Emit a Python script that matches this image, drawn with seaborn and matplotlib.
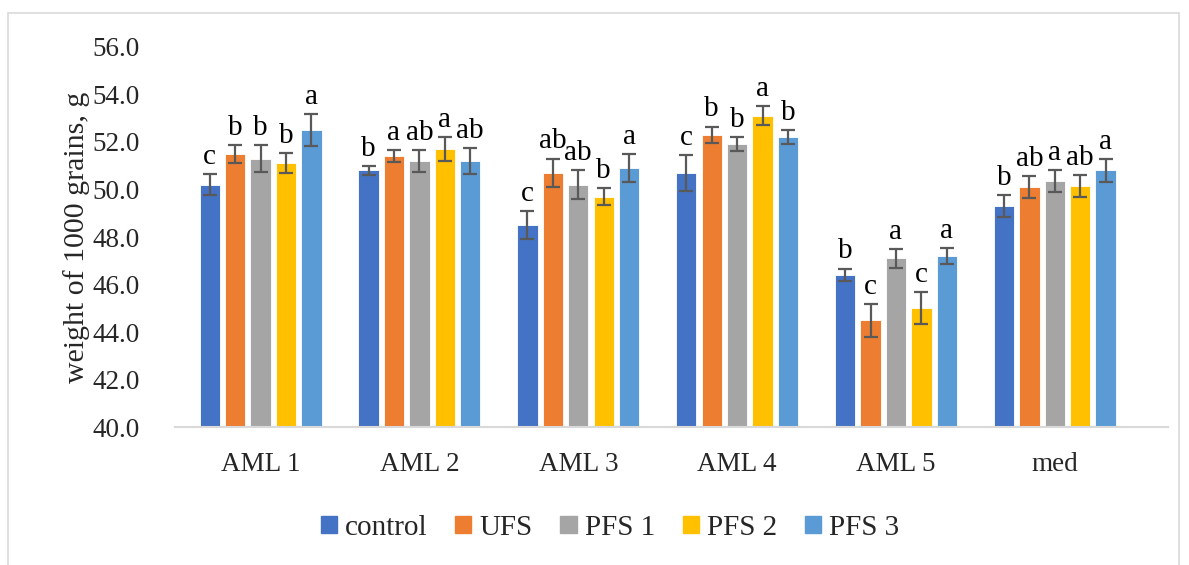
import numpy as np
import pandas as pd
import matplotlib
matplotlib.use("Agg")
import matplotlib.pyplot as plt
import seaborn as sns

groups = ["AML 1", "AML 2", "AML 3", "AML 4", "AML 5", "med"]
treatments = ["control", "UFS", "PFS 1", "PFS 2", "PFS 3"]
colors = ["#4472C4", "#ED7D31", "#A5A5A5", "#FFC000", "#5B9BD5"]

control = [50.2, 50.8, 48.5, 50.7, 46.4, 49.3]
ufs = [51.5, 51.4, 50.7, 52.3, 44.5, 50.1]
pfs1 = [51.3, 51.2, 50.2, 51.9, 47.1, 50.35]
pfs2 = [51.1, 51.7, 49.7, 53.1, 45.0, 50.15]
pfs3 = [52.5, 51.2, 50.9, 52.2, 47.2, 50.8]

err_control = [0.45, 0.20, 0.60, 0.75, 0.27, 0.46]
err_ufs = [0.37, 0.25, 0.60, 0.35, 0.69, 0.46]
err_pfs1 = [0.56, 0.45, 0.60, 0.30, 0.40, 0.47]
err_pfs2 = [0.42, 0.50, 0.35, 0.40, 0.67, 0.46]
err_pfs3 = [0.67, 0.55, 0.60, 0.30, 0.32, 0.49]

let_control = ["c", "b", "c", "c", "b", "b"]
let_ufs = ["b", "a", "ab", "b", "c", "ab"]
let_pfs1 = ["b", "ab", "ab", "b", "a", "a"]
let_pfs2 = ["b", "a", "b", "a", "c", "ab"]
let_pfs3 = ["a", "ab", "a", "b", "a", "a"]

values = [control, ufs, pfs1, pfs2, pfs3]
errors = [err_control, err_ufs, err_pfs1, err_pfs2, err_pfs3]
letters = [let_control, let_ufs, let_pfs1, let_pfs2, let_pfs3]

rows = []
for t, vals, errs, lets in zip(treatments, values, errors, letters):
    for g, v, e, l in zip(groups, vals, errs, lets):
        rows.append({"group": g, "treatment": t, "value": v, "err": e, "letter": l})
df = pd.DataFrame(rows)

sns.set_theme(style="white")
plt.rcParams["font.family"] = ["Liberation Serif", "DejaVu Serif"]

fig = plt.figure(figsize=(11.89, 5.65), dpi=100)
ax = fig.add_axes([0.147, 0.244, 0.835, 0.673])

sns.barplot(data=df, x="group", y="value", hue="treatment", order=groups,
            hue_order=treatments, palette=colors, saturation=1, width=0.8,
            gap=0.2, errorbar=None, ax=ax, legend=False,
            edgecolor="white", linewidth=0.6)

# error bars and significance letters, positioned from the bar geometry
for ti, t in enumerate(treatments):
    cont = ax.containers[ti]
    for gi, bar in enumerate(cont):
        sub = df[(df.treatment == t) & (df.group == groups[gi])].iloc[0]
        xc = bar.get_x() + bar.get_width() / 2
        ax.errorbar(xc, sub.value, yerr=sub.err, fmt="none", ecolor="#595959",
                    elinewidth=1.6, capsize=5, capthick=1.6, zorder=5)
        ax.annotate(sub.letter, (xc, sub.value + sub.err), xytext=(0, 3),
                    textcoords="offset points", ha="center", va="bottom",
                    fontsize=21, color="black")

ax.set_ylim(40, 56)
ticks = np.arange(40, 56.1, 2)
ax.set_yticks(ticks)
ax.set_yticklabels([f"{v:.1f}" for v in ticks], fontsize=19.5)
ax.set_xlim(-0.54, 5.71)
ax.tick_params(axis="x", labelsize=19.5, length=0, pad=18)
ax.tick_params(axis="y", length=0, pad=25)
ax.set_xlabel("")
ax.set_ylabel("weight of 1000 grains, g", fontsize=21.5, labelpad=2)

for s in ["top", "right", "left"]:
    ax.spines[s].set_visible(False)
ax.spines["bottom"].set_color("#D9D9D9")
ax.spines["bottom"].set_linewidth(1.5)

handles = [plt.Rectangle((0, 0), 1, 1, color=c) for c in colors]
fig.legend(handles, treatments, loc="center", bbox_to_anchor=(0.513, 0.066),
           ncol=5, frameon=False, fontsize=21, handlelength=0.55,
           handleheight=0.55, handletextpad=0.28, columnspacing=0.95)

# outer chart border
border = plt.Rectangle((0.007, -0.05), 0.985, 1.027, transform=fig.transFigure,
                       fill=False, edgecolor="#D9D9D9", linewidth=1.2)
fig.patches.append(border)

fig.savefig("out.png", dpi=100)
